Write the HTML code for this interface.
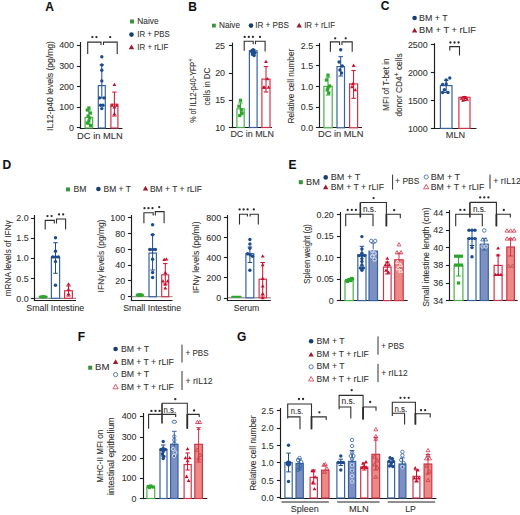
<!DOCTYPE html>
<html><head><meta charset="utf-8"><style>
html,body{margin:0;padding:0;background:#fff;}
svg{display:block;}
svg text{font-family:"Liberation Sans", sans-serif;stroke:currentColor;stroke-width:0.08px;}
</style></head><body>
<svg width="520" height="515" viewBox="0 0 520 515">
<rect width="520" height="515" fill="#fff"/>
<text x="45.2" y="10.6" font-size="12" fill="#111" color="#111" font-weight="bold">A</text>
<text x="188.2" y="10.8" font-size="12" fill="#111" color="#111" font-weight="bold">B</text>
<text x="380.8" y="10.4" font-size="12" fill="#111" color="#111" font-weight="bold">C</text>
<text x="2.6" y="169.2" font-size="12" fill="#111" color="#111" font-weight="bold">D</text>
<text x="288.6" y="169.3" font-size="12" fill="#111" color="#111" font-weight="bold">E</text>
<text x="77.8" y="341" font-size="12" fill="#111" color="#111" font-weight="bold">F</text>
<text x="237" y="341.3" font-size="12" fill="#111" color="#111" font-weight="bold">G</text>
<rect x="130.0" y="19.5" width="4" height="4" fill="#3a923a"/>
<text x="137.3" y="24.0" font-size="8.9" fill="#303030" color="#303030" textLength="21.3" lengthAdjust="spacingAndGlyphs">Naive</text>
<circle cx="131.5" cy="34.6" r="2.3" fill="#173f6e"/>
<text x="137.3" y="37.1" font-size="8.9" fill="#303030" color="#303030" textLength="32.3" lengthAdjust="spacingAndGlyphs">IR + PBS</text>
<polygon points="131.5,44.581199999999995 134.2,49.279199999999996 128.8,49.279199999999996" fill="#9c1a2e"/>
<text x="137.3" y="49.9" font-size="8.9" fill="#303030" color="#303030" textLength="31.0" lengthAdjust="spacingAndGlyphs">IR + rLIF</text>
<line x1="80.5" y1="42" x2="80.5" y2="129.1" stroke="#1c1c1c" stroke-width="1.15"/>
<line x1="79.9" y1="128.5" x2="122.5" y2="128.5" stroke="#1c1c1c" stroke-width="1.15"/>
<line x1="76.9" y1="45.5" x2="80.5" y2="45.5" stroke="#1c1c1c" stroke-width="1.1"/>
<text x="74" y="48.4" font-size="8.9" fill="#303030" color="#303030" text-anchor="end">400</text>
<line x1="76.9" y1="66.5" x2="80.5" y2="66.5" stroke="#1c1c1c" stroke-width="1.1"/>
<text x="74" y="69.1" font-size="8.9" fill="#303030" color="#303030" text-anchor="end">300</text>
<line x1="76.9" y1="86.5" x2="80.5" y2="86.5" stroke="#1c1c1c" stroke-width="1.1"/>
<text x="74" y="89.6" font-size="8.9" fill="#303030" color="#303030" text-anchor="end">200</text>
<line x1="76.9" y1="107.5" x2="80.5" y2="107.5" stroke="#1c1c1c" stroke-width="1.1"/>
<text x="74" y="110.19999999999999" font-size="8.9" fill="#303030" color="#303030" text-anchor="end">100</text>
<line x1="76.9" y1="127.5" x2="80.5" y2="127.5" stroke="#1c1c1c" stroke-width="1.1"/>
<text x="74" y="130.6" font-size="8.9" fill="#303030" color="#303030" text-anchor="end">0</text>
<text transform="translate(52.5,86) rotate(-90)" x="0" y="0" font-size="8.9" fill="#303030" color="#303030" text-anchor="middle" textLength="89.8" lengthAdjust="spacingAndGlyphs">IL12-p40 levels (pg/mg)</text>
<text x="77.1" y="139" font-size="8.9" fill="#303030" color="#303030" textLength="45.6" lengthAdjust="spacingAndGlyphs">DC in MLN</text>
<rect x="85.1" y="117.5" width="7.599999999999997" height="10.5" fill="#fff" stroke="#4cb04a" stroke-width="1.2"/>
<rect x="98.3" y="85.6" width="7.000000000000003" height="42.400000000000006" fill="#fff" stroke="#3563a3" stroke-width="1.2"/>
<rect x="110.89999999999999" y="104.2" width="7.000000000000003" height="23.799999999999997" fill="#fff" stroke="#d0344a" stroke-width="1.2"/>
<line x1="101.8" y1="64.9" x2="101.8" y2="97.9" stroke="#1d4b8c" stroke-width="1"/>
<line x1="99.55" y1="64.9" x2="104.05" y2="64.9" stroke="#1d4b8c" stroke-width="1"/>
<line x1="99.55" y1="97.9" x2="104.05" y2="97.9" stroke="#1d4b8c" stroke-width="1"/>
<line x1="114.4" y1="92.1" x2="114.4" y2="116" stroke="#c8102e" stroke-width="1"/>
<line x1="112.15" y1="92.1" x2="116.65" y2="92.1" stroke="#c8102e" stroke-width="1"/>
<line x1="112.15" y1="116" x2="116.65" y2="116" stroke="#c8102e" stroke-width="1"/>
<line x1="88.9" y1="110" x2="88.9" y2="124" stroke="#2ba52b" stroke-width="1"/>
<line x1="86.65" y1="110" x2="91.15" y2="110" stroke="#2ba52b" stroke-width="1"/>
<line x1="86.65" y1="124" x2="91.15" y2="124" stroke="#2ba52b" stroke-width="1"/>
<rect x="87.30000000000001" y="106.4" width="3.2" height="3.2" fill="#2ba52b"/>
<rect x="85.70000000000002" y="108.4" width="3.2" height="3.2" fill="#2ba52b"/>
<rect x="88.9" y="111.4" width="3.2" height="3.2" fill="#2ba52b"/>
<rect x="86.50000000000001" y="114.4" width="3.2" height="3.2" fill="#2ba52b"/>
<rect x="88.10000000000001" y="116.4" width="3.2" height="3.2" fill="#2ba52b"/>
<rect x="87.30000000000001" y="119.4" width="3.2" height="3.2" fill="#2ba52b"/>
<rect x="85.70000000000002" y="121.4" width="3.2" height="3.2" fill="#2ba52b"/>
<rect x="88.9" y="123.9" width="3.2" height="3.2" fill="#2ba52b"/>
<circle cx="101.8" cy="56.7" r="1.7" fill="#1d4b8c"/>
<circle cx="101.8" cy="64.9" r="1.7" fill="#1d4b8c"/>
<circle cx="101.8" cy="70.3" r="1.7" fill="#1d4b8c"/>
<circle cx="101.8" cy="80.9" r="1.7" fill="#1d4b8c"/>
<circle cx="99.6" cy="97.9" r="1.7" fill="#1d4b8c"/>
<circle cx="104" cy="97.9" r="1.7" fill="#1d4b8c"/>
<circle cx="100.6" cy="105.2" r="1.7" fill="#1d4b8c"/>
<circle cx="103" cy="105.2" r="1.7" fill="#1d4b8c"/>
<circle cx="101.8" cy="108.6" r="1.7" fill="#1d4b8c"/>
<polygon points="114.4,82.8164 116.30000000000001,86.1224 112.5,86.1224" fill="#c8102e"/>
<polygon points="112.2,103.41640000000001 114.10000000000001,106.72240000000001 110.3,106.72240000000001" fill="#c8102e"/>
<polygon points="116.6,103.41640000000001 118.5,106.72240000000001 114.69999999999999,106.72240000000001" fill="#c8102e"/>
<polygon points="114.4,105.3164 116.30000000000001,108.6224 112.5,108.6224" fill="#c8102e"/>
<polygon points="114.4,112.0164 116.30000000000001,115.3224 112.5,115.3224" fill="#c8102e"/>
<polyline points="87.7,53.9 87.7,42.1 101,42.1 101,45.1" fill="none" stroke="#2e2e2e" stroke-width="1.1"/>
<polyline points="103.5,45.1 103.5,42.1 117.2,42.1 117.2,53.9" fill="none" stroke="#2e2e2e" stroke-width="1.1"/>
<circle cx="92.35" cy="37.1" r="1.15" fill="#2a2a2a"/>
<circle cx="96.45" cy="37.1" r="1.15" fill="#2a2a2a"/>
<circle cx="110.20" cy="37.1" r="1.15" fill="#2a2a2a"/>
<rect x="212.0" y="23.700000000000003" width="3.8" height="3.8" fill="#3a923a"/>
<text x="219.0" y="28.1" font-size="8.9" fill="#303030" color="#303030" textLength="21.0" lengthAdjust="spacingAndGlyphs">Naive</text>
<circle cx="251" cy="25.6" r="2.3" fill="#173f6e"/>
<text x="255.2" y="28.1" font-size="8.9" fill="#303030" color="#303030" textLength="33.7" lengthAdjust="spacingAndGlyphs">IR + PBS</text>
<polygon points="299.2,22.781200000000002 301.9,27.479200000000002 296.5,27.479200000000002" fill="#9c1a2e"/>
<text x="304.2" y="28.1" font-size="8.9" fill="#303030" color="#303030" textLength="30.8" lengthAdjust="spacingAndGlyphs">IR + rLIF</text>
<line x1="232.5" y1="42.7" x2="232.5" y2="128.1" stroke="#1c1c1c" stroke-width="1.15"/>
<line x1="231.9" y1="127.5" x2="272" y2="127.5" stroke="#1c1c1c" stroke-width="1.15"/>
<line x1="228.9" y1="45.5" x2="232.5" y2="45.5" stroke="#1c1c1c" stroke-width="1.1"/>
<text x="225" y="48.7" font-size="8.9" fill="#303030" color="#303030" text-anchor="end">25</text>
<line x1="228.9" y1="73.5" x2="232.5" y2="73.5" stroke="#1c1c1c" stroke-width="1.1"/>
<text x="225" y="76.1" font-size="8.9" fill="#303030" color="#303030" text-anchor="end">20</text>
<line x1="228.9" y1="100.5" x2="232.5" y2="100.5" stroke="#1c1c1c" stroke-width="1.1"/>
<text x="225" y="103.39999999999999" font-size="8.9" fill="#303030" color="#303030" text-anchor="end">15</text>
<line x1="228.9" y1="127.5" x2="232.5" y2="127.5" stroke="#1c1c1c" stroke-width="1.1"/>
<text x="225" y="130.6" font-size="8.9" fill="#303030" color="#303030" text-anchor="end">10</text>
<text transform="translate(195.7,90.7) rotate(-90)" font-size="8.9" fill="#303030" color="#303030" text-anchor="middle" textLength="64.3" lengthAdjust="spacingAndGlyphs">% of IL12-p40-YFP<tspan font-size="7" dy="-3.2">+</tspan></text>
<text transform="translate(209.5,86.7) rotate(-90)" x="0" y="0" font-size="8.9" fill="#303030" color="#303030" text-anchor="middle" textLength="37.7" lengthAdjust="spacingAndGlyphs">cells in DC</text>
<text x="230.4" y="137" font-size="8.9" fill="#303030" color="#303030" textLength="43.6" lengthAdjust="spacingAndGlyphs">DC in MLN</text>
<rect x="236.9" y="108.8" width="7.3" height="18.700000000000003" fill="#fff" stroke="#4cb04a" stroke-width="1.2"/>
<rect x="249.4" y="50.8" width="7.699999999999977" height="76.7" fill="#fff" stroke="#3563a3" stroke-width="1.2"/>
<rect x="261.90000000000003" y="79.1" width="8.100000000000012" height="48.400000000000006" fill="#fff" stroke="#d0344a" stroke-width="1.2"/>
<line x1="240.5" y1="102.9" x2="240.5" y2="115" stroke="#2ba52b" stroke-width="1"/>
<line x1="238.25" y1="102.9" x2="242.75" y2="102.9" stroke="#2ba52b" stroke-width="1"/>
<line x1="238.25" y1="115" x2="242.75" y2="115" stroke="#2ba52b" stroke-width="1"/>
<line x1="253.2" y1="49.5" x2="253.2" y2="55" stroke="#1d4b8c" stroke-width="1"/>
<line x1="250.95" y1="49.5" x2="255.45" y2="49.5" stroke="#1d4b8c" stroke-width="1"/>
<line x1="250.95" y1="55" x2="255.45" y2="55" stroke="#1d4b8c" stroke-width="1"/>
<line x1="266" y1="66.6" x2="266" y2="92" stroke="#c8102e" stroke-width="1"/>
<line x1="263.75" y1="66.6" x2="268.25" y2="66.6" stroke="#c8102e" stroke-width="1"/>
<line x1="263.75" y1="92" x2="268.25" y2="92" stroke="#c8102e" stroke-width="1"/>
<rect x="238.9" y="98.7" width="3.2" height="3.2" fill="#2ba52b"/>
<rect x="237.3" y="104.60000000000001" width="3.2" height="3.2" fill="#2ba52b"/>
<rect x="240.5" y="111.60000000000001" width="3.2" height="3.2" fill="#2ba52b"/>
<rect x="238.1" y="113.9" width="3.2" height="3.2" fill="#2ba52b"/>
<rect x="239.70000000000002" y="108.4" width="3.2" height="3.2" fill="#2ba52b"/>
<circle cx="253.2" cy="49.8" r="1.7" fill="#1d4b8c"/>
<circle cx="251.39999999999998" cy="51.2" r="1.7" fill="#1d4b8c"/>
<circle cx="255.0" cy="52.6" r="1.7" fill="#1d4b8c"/>
<circle cx="252.29999999999998" cy="54" r="1.7" fill="#1d4b8c"/>
<circle cx="254.1" cy="55.5" r="1.7" fill="#1d4b8c"/>
<circle cx="253.2" cy="51.5" r="1.7" fill="#1d4b8c"/>
<polygon points="266,59.7164 267.9,63.022400000000005 264.1,63.022400000000005" fill="#c8102e"/>
<polygon points="263.5,85.41640000000001 265.4,88.72240000000001 261.6,88.72240000000001" fill="#c8102e"/>
<polygon points="268.5,85.41640000000001 270.4,88.72240000000001 266.6,88.72240000000001" fill="#c8102e"/>
<polygon points="264.75,85.41640000000001 266.65,88.72240000000001 262.85,88.72240000000001" fill="#c8102e"/>
<polygon points="267.25,77.0164 269.15,80.3224 265.35,80.3224" fill="#c8102e"/>
<polyline points="244.2,50.8 244.2,41.3 253.2,41.3 253.2,44.3" fill="none" stroke="#2e2e2e" stroke-width="1.1"/>
<polyline points="255.5,44.3 255.5,41.3 265.1,41.3 265.1,51.4" fill="none" stroke="#2e2e2e" stroke-width="1.1"/>
<circle cx="244.70" cy="36.9" r="1.15" fill="#2a2a2a"/>
<circle cx="248.80" cy="36.9" r="1.15" fill="#2a2a2a"/>
<circle cx="252.90" cy="36.9" r="1.15" fill="#2a2a2a"/>
<circle cx="260.00" cy="36.9" r="1.15" fill="#2a2a2a"/>
<line x1="319.5" y1="43" x2="319.5" y2="128.1" stroke="#1c1c1c" stroke-width="1.15"/>
<line x1="318.9" y1="127.5" x2="362" y2="127.5" stroke="#1c1c1c" stroke-width="1.15"/>
<line x1="315.9" y1="45.5" x2="319.5" y2="45.5" stroke="#1c1c1c" stroke-width="1.1"/>
<text x="313.2" y="48.5" font-size="8.9" fill="#303030" color="#303030" text-anchor="end">2.5</text>
<line x1="315.9" y1="65.5" x2="319.5" y2="65.5" stroke="#1c1c1c" stroke-width="1.1"/>
<text x="313.2" y="69.0" font-size="8.9" fill="#303030" color="#303030" text-anchor="end">1.5</text>
<line x1="315.9" y1="86.5" x2="319.5" y2="86.5" stroke="#1c1c1c" stroke-width="1.1"/>
<text x="313.2" y="89.69999999999999" font-size="8.9" fill="#303030" color="#303030" text-anchor="end">1.0</text>
<line x1="315.9" y1="107.5" x2="319.5" y2="107.5" stroke="#1c1c1c" stroke-width="1.1"/>
<text x="313.2" y="110.1" font-size="8.9" fill="#303030" color="#303030" text-anchor="end">0.5</text>
<line x1="315.9" y1="127.5" x2="319.5" y2="127.5" stroke="#1c1c1c" stroke-width="1.1"/>
<text x="313.2" y="130.7" font-size="8.9" fill="#303030" color="#303030" text-anchor="end">0.0</text>
<text transform="translate(294.3,86.1) rotate(-90)" x="0" y="0" font-size="8.9" fill="#303030" color="#303030" text-anchor="middle" textLength="74.8" lengthAdjust="spacingAndGlyphs">Relative cell number</text>
<text x="318" y="137" font-size="8.9" fill="#303030" color="#303030" textLength="45.4" lengthAdjust="spacingAndGlyphs">DC in MLN</text>
<rect x="323.90000000000003" y="86.4" width="8.3" height="41.39999999999999" fill="#fff" stroke="#4cb04a" stroke-width="1.2"/>
<rect x="337.0" y="66.6" width="7.500000000000045" height="61.2" fill="#fff" stroke="#3563a3" stroke-width="1.2"/>
<rect x="349.6" y="83.9" width="7.9999999999999885" height="43.89999999999999" fill="#fff" stroke="#d0344a" stroke-width="1.2"/>
<line x1="328" y1="77.1" x2="328" y2="95" stroke="#2ba52b" stroke-width="1"/>
<line x1="325.75" y1="77.1" x2="330.25" y2="77.1" stroke="#2ba52b" stroke-width="1"/>
<line x1="325.75" y1="95" x2="330.25" y2="95" stroke="#2ba52b" stroke-width="1"/>
<line x1="340.7" y1="56.7" x2="340.7" y2="76" stroke="#1d4b8c" stroke-width="1"/>
<line x1="338.45" y1="56.7" x2="342.95" y2="56.7" stroke="#1d4b8c" stroke-width="1"/>
<line x1="338.45" y1="76" x2="342.95" y2="76" stroke="#1d4b8c" stroke-width="1"/>
<line x1="353.6" y1="70.6" x2="353.6" y2="98.3" stroke="#c8102e" stroke-width="1"/>
<line x1="351.35" y1="70.6" x2="355.85" y2="70.6" stroke="#c8102e" stroke-width="1"/>
<line x1="351.35" y1="98.3" x2="355.85" y2="98.3" stroke="#c8102e" stroke-width="1"/>
<rect x="326.4" y="73.5" width="3.2" height="3.2" fill="#2ba52b"/>
<rect x="324.79999999999995" y="78.4" width="3.2" height="3.2" fill="#2ba52b"/>
<rect x="328.0" y="84.4" width="3.2" height="3.2" fill="#2ba52b"/>
<rect x="325.59999999999997" y="88.4" width="3.2" height="3.2" fill="#2ba52b"/>
<rect x="327.2" y="91.4" width="3.2" height="3.2" fill="#2ba52b"/>
<rect x="326.4" y="86.4" width="3.2" height="3.2" fill="#2ba52b"/>
<circle cx="340.7" cy="49.8" r="1.7" fill="#1d4b8c"/>
<circle cx="339.09999999999997" cy="62" r="1.7" fill="#1d4b8c"/>
<circle cx="342.3" cy="66" r="1.7" fill="#1d4b8c"/>
<circle cx="339.9" cy="70" r="1.7" fill="#1d4b8c"/>
<circle cx="341.5" cy="73" r="1.7" fill="#1d4b8c"/>
<polygon points="353.6,63.61639999999999 355.5,66.9224 351.70000000000005,66.9224" fill="#c8102e"/>
<polygon points="352.0,85.0164 353.9,88.3224 350.1,88.3224" fill="#c8102e"/>
<polygon points="355.20000000000005,88.0164 357.1,91.3224 353.30000000000007,91.3224" fill="#c8102e"/>
<polygon points="352.8,82.0164 354.7,85.3224 350.90000000000003,85.3224" fill="#c8102e"/>
<polyline points="330.4,51.8 330.4,41.9 339.6,41.9 339.6,45" fill="none" stroke="#2e2e2e" stroke-width="1.1"/>
<polyline points="342,45 342,41.9 352.2,41.9 352.2,51.8" fill="none" stroke="#2e2e2e" stroke-width="1.1"/>
<circle cx="335.20" cy="38.3" r="1.15" fill="#2a2a2a"/>
<circle cx="345.70" cy="38.3" r="1.15" fill="#2a2a2a"/>
<circle cx="414.6" cy="18" r="2.3" fill="#173f6e"/>
<text x="419.1" y="20.5" font-size="8.9" fill="#303030" color="#303030" textLength="28.5" lengthAdjust="spacingAndGlyphs">BM + T</text>
<polygon points="414.6,27.781200000000002 417.3,32.4792 411.90000000000003,32.4792" fill="#9c1a2e"/>
<text x="419.1" y="33.1" font-size="8.9" fill="#303030" color="#303030" textLength="56.9" lengthAdjust="spacingAndGlyphs">BM + T + rLIF</text>
<line x1="434.5" y1="43.2" x2="434.5" y2="129.1" stroke="#1c1c1c" stroke-width="1.15"/>
<line x1="433.9" y1="128.5" x2="476.5" y2="128.5" stroke="#1c1c1c" stroke-width="1.15"/>
<line x1="430.9" y1="44.5" x2="434.5" y2="44.5" stroke="#1c1c1c" stroke-width="1.1"/>
<text x="427.7" y="47.7" font-size="8.9" fill="#303030" color="#303030" text-anchor="end">2500</text>
<line x1="430.9" y1="72.5" x2="434.5" y2="72.5" stroke="#1c1c1c" stroke-width="1.1"/>
<text x="427.7" y="75.89999999999999" font-size="8.9" fill="#303030" color="#303030" text-anchor="end">2000</text>
<line x1="430.9" y1="100.5" x2="434.5" y2="100.5" stroke="#1c1c1c" stroke-width="1.1"/>
<text x="427.7" y="103.69999999999999" font-size="8.9" fill="#303030" color="#303030" text-anchor="end">1500</text>
<line x1="430.9" y1="128.5" x2="434.5" y2="128.5" stroke="#1c1c1c" stroke-width="1.1"/>
<text x="427.7" y="131.5" font-size="8.9" fill="#303030" color="#303030" text-anchor="end">1000</text>
<text transform="translate(389,84.7) rotate(-90)" x="0" y="0" font-size="8.9" fill="#303030" color="#303030" text-anchor="middle" textLength="52.4" lengthAdjust="spacingAndGlyphs">MFI of T-bet in</text>
<text transform="translate(402,85) rotate(-90)" font-size="8.9" fill="#303030" color="#303030" text-anchor="middle" textLength="63.2" lengthAdjust="spacingAndGlyphs">donor CD4<tspan font-size="7" dy="-3.2">+</tspan><tspan dy="3"> cells</tspan></text>
<text x="455.5" y="138.3" font-size="8.9" fill="#303030" color="#303030" text-anchor="middle" textLength="19.3" lengthAdjust="spacingAndGlyphs">MLN</text>
<rect x="440.40000000000003" y="85.6" width="11.600000000000012" height="42.80000000000001" fill="#fff" stroke="#3563a3" stroke-width="1.2"/>
<rect x="458.90000000000003" y="97.3" width="11.100000000000012" height="31.10000000000001" fill="#fff" stroke="#d0344a" stroke-width="1.2"/>
<line x1="446.2" y1="80.3" x2="446.2" y2="92.5" stroke="#1d4b8c" stroke-width="1"/>
<line x1="443.95" y1="80.3" x2="448.45" y2="80.3" stroke="#1d4b8c" stroke-width="1"/>
<line x1="443.95" y1="92.5" x2="448.45" y2="92.5" stroke="#1d4b8c" stroke-width="1"/>
<line x1="464.4" y1="96.5" x2="464.4" y2="100.5" stroke="#c8102e" stroke-width="1"/>
<line x1="462.15" y1="96.5" x2="466.65" y2="96.5" stroke="#c8102e" stroke-width="1"/>
<line x1="462.15" y1="100.5" x2="466.65" y2="100.5" stroke="#c8102e" stroke-width="1"/>
<circle cx="446.2" cy="79.9" r="1.7" fill="#1d4b8c"/>
<circle cx="442.59999999999997" cy="84.4" r="1.7" fill="#1d4b8c"/>
<circle cx="449.8" cy="78" r="1.7" fill="#1d4b8c"/>
<circle cx="444.4" cy="89.7" r="1.7" fill="#1d4b8c"/>
<circle cx="448.0" cy="92.5" r="1.7" fill="#1d4b8c"/>
<circle cx="446.2" cy="84" r="1.7" fill="#1d4b8c"/>
<circle cx="442.59999999999997" cy="92.5" r="1.7" fill="#1d4b8c"/>
<polygon points="464.4,95.5164 466.29999999999995,98.8224 462.5,98.8224" fill="#c8102e"/>
<polygon points="461.59999999999997,96.5164 463.49999999999994,99.8224 459.7,99.8224" fill="#c8102e"/>
<polygon points="467.2,97.5164 469.09999999999997,100.8224 465.3,100.8224" fill="#c8102e"/>
<polygon points="463.0,98.5164 464.9,101.8224 461.1,101.8224" fill="#c8102e"/>
<polygon points="465.79999999999995,96.0164 467.69999999999993,99.3224 463.9,99.3224" fill="#c8102e"/>
<polyline points="449.8,50.5 449.8,46.6 459.5,46.6 459.5,55.4" fill="none" stroke="#2e2e2e" stroke-width="1.1"/>
<circle cx="450.40" cy="42.5" r="1.15" fill="#2a2a2a"/>
<circle cx="454.50" cy="42.5" r="1.15" fill="#2a2a2a"/>
<circle cx="458.60" cy="42.5" r="1.15" fill="#2a2a2a"/>
<rect x="66.05" y="187.45000000000002" width="3.9" height="3.9" fill="#3a923a"/>
<text x="73.6" y="191.8" font-size="8.9" fill="#303030" color="#303030" textLength="12.9" lengthAdjust="spacingAndGlyphs">BM</text>
<circle cx="98.4" cy="189" r="2.3" fill="#173f6e"/>
<text x="103.5" y="191.6" font-size="8.9" fill="#303030" color="#303030" textLength="27.3" lengthAdjust="spacingAndGlyphs">BM + T</text>
<polygon points="145.5,185.78119999999998 148.2,190.4792 142.8,190.4792" fill="#9c1a2e"/>
<text x="149.9" y="191.6" font-size="8.9" fill="#303030" color="#303030" textLength="52.1" lengthAdjust="spacingAndGlyphs">BM + T + rLIF</text>
<line x1="34.5" y1="298.3" x2="76" y2="298.3" stroke="#666" stroke-width="0.9"/>
<line x1="34.5" y1="215" x2="34.5" y2="301.1" stroke="#1c1c1c" stroke-width="1.15"/>
<line x1="33.9" y1="300.5" x2="76" y2="300.5" stroke="#1c1c1c" stroke-width="1.15"/>
<line x1="30.9" y1="218.5" x2="34.5" y2="218.5" stroke="#1c1c1c" stroke-width="1.1"/>
<text x="28.7" y="221.1" font-size="8.9" fill="#303030" color="#303030" text-anchor="end">2.0</text>
<line x1="30.9" y1="238.5" x2="34.5" y2="238.5" stroke="#1c1c1c" stroke-width="1.1"/>
<text x="28.7" y="241.29999999999998" font-size="8.9" fill="#303030" color="#303030" text-anchor="end">1.5</text>
<line x1="30.9" y1="258.5" x2="34.5" y2="258.5" stroke="#1c1c1c" stroke-width="1.1"/>
<text x="28.7" y="261.1" font-size="8.9" fill="#303030" color="#303030" text-anchor="end">1.0</text>
<line x1="30.9" y1="278.5" x2="34.5" y2="278.5" stroke="#1c1c1c" stroke-width="1.1"/>
<text x="28.7" y="281.5" font-size="8.9" fill="#303030" color="#303030" text-anchor="end">0.5</text>
<line x1="30.9" y1="298.5" x2="34.5" y2="298.5" stroke="#1c1c1c" stroke-width="1.1"/>
<text x="28.7" y="301.70000000000005" font-size="8.9" fill="#303030" color="#303030" text-anchor="end">0.0</text>
<text transform="translate(10.6,258.4) rotate(-90)" x="0" y="0" font-size="8.9" fill="#303030" color="#303030" text-anchor="middle" textLength="75.8" lengthAdjust="spacingAndGlyphs">mRNA levels of IFNγ</text>
<text x="26.3" y="311.2" font-size="8.9" fill="#303030" color="#303030" textLength="58" lengthAdjust="spacingAndGlyphs">Small Intestine</text>
<ellipse cx="43.2" cy="296.8" rx="4.6" ry="1.7" fill="#2ba52b"/>
<rect x="51.4" y="257.5" width="8.200000000000006" height="40.80000000000001" fill="#fff" stroke="#3563a3" stroke-width="1.2"/>
<rect x="64.6" y="290.8" width="7.8" height="7.5" fill="#fff" stroke="#d0344a" stroke-width="1.2"/>
<line x1="55.5" y1="242.7" x2="55.5" y2="273.3" stroke="#1d4b8c" stroke-width="1"/>
<line x1="53.25" y1="242.7" x2="57.75" y2="242.7" stroke="#1d4b8c" stroke-width="1"/>
<line x1="53.25" y1="273.3" x2="57.75" y2="273.3" stroke="#1d4b8c" stroke-width="1"/>
<line x1="68.5" y1="286" x2="68.5" y2="296" stroke="#c8102e" stroke-width="1"/>
<line x1="66.25" y1="286" x2="70.75" y2="286" stroke="#c8102e" stroke-width="1"/>
<line x1="66.25" y1="296" x2="70.75" y2="296" stroke="#c8102e" stroke-width="1"/>
<circle cx="55.5" cy="237.7" r="1.7" fill="#1d4b8c"/>
<circle cx="55.5" cy="251.2" r="1.7" fill="#1d4b8c"/>
<circle cx="52.6" cy="256.9" r="1.7" fill="#1d4b8c"/>
<circle cx="55.5" cy="256.9" r="1.7" fill="#1d4b8c"/>
<circle cx="58.4" cy="256.9" r="1.7" fill="#1d4b8c"/>
<circle cx="55.5" cy="261.6" r="1.7" fill="#1d4b8c"/>
<circle cx="55.5" cy="285.2" r="1.7" fill="#1d4b8c"/>
<polygon points="68.5,282.21639999999996 70.4,285.5224 66.6,285.5224" fill="#c8102e"/>
<polygon points="68.5,287.5164 70.4,290.8224 66.6,290.8224" fill="#c8102e"/>
<polygon points="68.5,292.0164 70.4,295.3224 66.6,295.3224" fill="#c8102e"/>
<polyline points="45.2,229.5 45.2,220.4 54.3,220.4 54.3,223.6" fill="none" stroke="#2e2e2e" stroke-width="1.1"/>
<polyline points="56.5,223.6 56.5,219 65.6,219 65.6,229.5" fill="none" stroke="#2e2e2e" stroke-width="1.1"/>
<circle cx="47.50" cy="216.1" r="1.15" fill="#2a2a2a"/>
<circle cx="51.60" cy="216.1" r="1.15" fill="#2a2a2a"/>
<circle cx="59.05" cy="214.4" r="1.15" fill="#2a2a2a"/>
<circle cx="63.15" cy="214.4" r="1.15" fill="#2a2a2a"/>
<line x1="131.5" y1="215" x2="131.5" y2="301.1" stroke="#1c1c1c" stroke-width="1.15"/>
<line x1="130.9" y1="300.5" x2="172.5" y2="300.5" stroke="#1c1c1c" stroke-width="1.15"/>
<line x1="127.9" y1="217.5" x2="131.5" y2="217.5" stroke="#1c1c1c" stroke-width="1.1"/>
<text x="125.1" y="220.7" font-size="8.9" fill="#303030" color="#303030" text-anchor="end">100</text>
<line x1="127.9" y1="233.5" x2="131.5" y2="233.5" stroke="#1c1c1c" stroke-width="1.1"/>
<text x="125.1" y="236.79999999999998" font-size="8.9" fill="#303030" color="#303030" text-anchor="end">80</text>
<line x1="127.9" y1="249.5" x2="131.5" y2="249.5" stroke="#1c1c1c" stroke-width="1.1"/>
<text x="125.1" y="252.79999999999998" font-size="8.9" fill="#303030" color="#303030" text-anchor="end">60</text>
<line x1="127.9" y1="265.5" x2="131.5" y2="265.5" stroke="#1c1c1c" stroke-width="1.1"/>
<text x="125.1" y="268.3" font-size="8.9" fill="#303030" color="#303030" text-anchor="end">40</text>
<line x1="127.9" y1="280.5" x2="131.5" y2="280.5" stroke="#1c1c1c" stroke-width="1.1"/>
<text x="125.1" y="283.8" font-size="8.9" fill="#303030" color="#303030" text-anchor="end">20</text>
<line x1="127.9" y1="296.5" x2="131.5" y2="296.5" stroke="#1c1c1c" stroke-width="1.1"/>
<text x="125.1" y="299.70000000000005" font-size="8.9" fill="#303030" color="#303030" text-anchor="end">0</text>
<line x1="131" y1="296.7" x2="172.5" y2="296.7" stroke="#666" stroke-width="0.8"/>
<text transform="translate(104,256) rotate(-90)" x="0" y="0" font-size="8.9" fill="#303030" color="#303030" text-anchor="middle" textLength="72.8" lengthAdjust="spacingAndGlyphs">IFNγ levels (pg/mg)</text>
<text x="123.2" y="311.2" font-size="8.9" fill="#303030" color="#303030" textLength="58" lengthAdjust="spacingAndGlyphs">Small Intestine</text>
<ellipse cx="139.8" cy="295" rx="4.2" ry="2" fill="#2ba52b"/>
<rect x="149.0" y="253.1" width="7.399999999999994" height="43.599999999999994" fill="#fff" stroke="#3563a3" stroke-width="1.2"/>
<rect x="161.7" y="274.8" width="7.000000000000017" height="21.899999999999977" fill="#fff" stroke="#d0344a" stroke-width="1.2"/>
<line x1="152.6" y1="234.7" x2="152.6" y2="270" stroke="#1d4b8c" stroke-width="1"/>
<line x1="150.35" y1="234.7" x2="154.85" y2="234.7" stroke="#1d4b8c" stroke-width="1"/>
<line x1="150.35" y1="270" x2="154.85" y2="270" stroke="#1d4b8c" stroke-width="1"/>
<line x1="165.3" y1="263.6" x2="165.3" y2="284" stroke="#c8102e" stroke-width="1"/>
<line x1="163.05" y1="263.6" x2="167.55" y2="263.6" stroke="#c8102e" stroke-width="1"/>
<line x1="163.05" y1="284" x2="167.55" y2="284" stroke="#c8102e" stroke-width="1"/>
<circle cx="152.6" cy="224.8" r="1.7" fill="#1d4b8c"/>
<circle cx="152.6" cy="234.7" r="1.7" fill="#1d4b8c"/>
<circle cx="149.8" cy="249.5" r="1.7" fill="#1d4b8c"/>
<circle cx="152.6" cy="249.5" r="1.7" fill="#1d4b8c"/>
<circle cx="155.4" cy="249.5" r="1.7" fill="#1d4b8c"/>
<circle cx="152.6" cy="259.3" r="1.7" fill="#1d4b8c"/>
<circle cx="152.6" cy="272.5" r="1.7" fill="#1d4b8c"/>
<circle cx="152.6" cy="277.5" r="1.7" fill="#1d4b8c"/>
<polygon points="164.2,257.71639999999996 166.1,261.0224 162.29999999999998,261.0224" fill="#c8102e"/>
<polygon points="166.4,257.21639999999996 168.3,260.5224 164.5,260.5224" fill="#c8102e"/>
<polygon points="165.3,270.8164 167.20000000000002,274.1224 163.4,274.1224" fill="#c8102e"/>
<polygon points="163,279.3164 164.9,282.6224 161.1,282.6224" fill="#c8102e"/>
<polygon points="167.6,279.3164 169.5,282.6224 165.7,282.6224" fill="#c8102e"/>
<polygon points="165.3,282.5164 167.20000000000002,285.8224 163.4,285.8224" fill="#c8102e"/>
<polygon points="165.3,286.21639999999996 167.20000000000002,289.5224 163.4,289.5224" fill="#c8102e"/>
<polyline points="143.9,223.2 143.9,212.7 153.2,212.7 153.2,215.6" fill="none" stroke="#2e2e2e" stroke-width="1.1"/>
<polyline points="155.3,215.6 155.3,211.6 164.1,211.6 164.1,223.2" fill="none" stroke="#2e2e2e" stroke-width="1.1"/>
<circle cx="144.50" cy="208.2" r="1.15" fill="#2a2a2a"/>
<circle cx="148.50" cy="208.2" r="1.15" fill="#2a2a2a"/>
<circle cx="152.50" cy="208.2" r="1.15" fill="#2a2a2a"/>
<circle cx="159.20" cy="207.1" r="1.15" fill="#2a2a2a"/>
<line x1="227.5" y1="297.8" x2="270.8" y2="297.8" stroke="#666" stroke-width="0.9"/>
<line x1="227.5" y1="215" x2="227.5" y2="301.1" stroke="#1c1c1c" stroke-width="1.15"/>
<line x1="226.9" y1="300.5" x2="270.8" y2="300.5" stroke="#1c1c1c" stroke-width="1.15"/>
<line x1="223.9" y1="217.5" x2="227.5" y2="217.5" stroke="#1c1c1c" stroke-width="1.1"/>
<text x="221.1" y="220.7" font-size="8.9" fill="#303030" color="#303030" text-anchor="end">800</text>
<line x1="223.9" y1="237.5" x2="227.5" y2="237.5" stroke="#1c1c1c" stroke-width="1.1"/>
<text x="221.1" y="240.7" font-size="8.9" fill="#303030" color="#303030" text-anchor="end">600</text>
<line x1="223.9" y1="257.5" x2="227.5" y2="257.5" stroke="#1c1c1c" stroke-width="1.1"/>
<text x="221.1" y="260.70000000000005" font-size="8.9" fill="#303030" color="#303030" text-anchor="end">400</text>
<line x1="223.9" y1="277.5" x2="227.5" y2="277.5" stroke="#1c1c1c" stroke-width="1.1"/>
<text x="221.1" y="280.90000000000003" font-size="8.9" fill="#303030" color="#303030" text-anchor="end">200</text>
<line x1="223.9" y1="298.5" x2="227.5" y2="298.5" stroke="#1c1c1c" stroke-width="1.1"/>
<text x="221.1" y="301.3" font-size="8.9" fill="#303030" color="#303030" text-anchor="end">0</text>
<text transform="translate(199,257.4) rotate(-90)" x="0" y="0" font-size="8.9" fill="#303030" color="#303030" text-anchor="middle" textLength="71.8" lengthAdjust="spacingAndGlyphs">IFNγ levels (pg/ml)</text>
<text x="246.5" y="311.2" font-size="8.9" fill="#303030" color="#303030" text-anchor="middle" textLength="25.6" lengthAdjust="spacingAndGlyphs">Serum</text>
<rect x="231.2" y="295.8" width="10.3" height="2" rx="0.8" fill="#2ba52b"/>
<rect x="245.9" y="253.7" width="7.899999999999994" height="44.10000000000002" fill="#fff" stroke="#3563a3" stroke-width="1.2"/>
<rect x="259.1" y="279.2" width="7.3" height="18.600000000000023" fill="#fff" stroke="#d0344a" stroke-width="1.2"/>
<line x1="249.9" y1="247" x2="249.9" y2="262.5" stroke="#1d4b8c" stroke-width="1"/>
<line x1="247.65" y1="247" x2="252.15" y2="247" stroke="#1d4b8c" stroke-width="1"/>
<line x1="247.65" y1="262.5" x2="252.15" y2="262.5" stroke="#1d4b8c" stroke-width="1"/>
<line x1="262.7" y1="262.5" x2="262.7" y2="296" stroke="#c8102e" stroke-width="1"/>
<line x1="260.45" y1="262.5" x2="264.95" y2="262.5" stroke="#c8102e" stroke-width="1"/>
<line x1="260.45" y1="296" x2="264.95" y2="296" stroke="#c8102e" stroke-width="1"/>
<circle cx="249.9" cy="239.5" r="1.7" fill="#1d4b8c"/>
<circle cx="249.9" cy="244" r="1.7" fill="#1d4b8c"/>
<circle cx="249.9" cy="248.2" r="1.7" fill="#1d4b8c"/>
<circle cx="247.6" cy="253.8" r="1.7" fill="#1d4b8c"/>
<circle cx="250.2" cy="254.8" r="1.7" fill="#1d4b8c"/>
<circle cx="252.5" cy="256.2" r="1.7" fill="#1d4b8c"/>
<circle cx="249.9" cy="270.3" r="1.7" fill="#1d4b8c"/>
<polygon points="262.7,254.31640000000002 264.59999999999997,257.6224 260.8,257.6224" fill="#c8102e"/>
<polygon points="262.69,263.0164 264.59,266.3224 260.79,266.3224" fill="#c8102e"/>
<polygon points="262.71,276.6164 264.60999999999996,279.92240000000004 260.81,279.92240000000004" fill="#c8102e"/>
<polygon points="262.695,284.1164 264.59499999999997,287.42240000000004 260.795,287.42240000000004" fill="#c8102e"/>
<polygon points="262.705,291.71639999999996 264.60499999999996,295.0224 260.805,295.0224" fill="#c8102e"/>
<polygon points="262.7,296.0164 264.59999999999997,299.3224 260.8,299.3224" fill="#c8102e"/>
<polyline points="239.5,224.6 239.5,214.2 247.4,214.2 247.4,216.6" fill="none" stroke="#2e2e2e" stroke-width="1.1"/>
<polyline points="250.1,216.6 250.1,214.2 258.3,214.2 258.3,224.6" fill="none" stroke="#2e2e2e" stroke-width="1.1"/>
<circle cx="239.60" cy="209.4" r="1.15" fill="#2a2a2a"/>
<circle cx="243.60" cy="209.4" r="1.15" fill="#2a2a2a"/>
<circle cx="247.60" cy="209.4" r="1.15" fill="#2a2a2a"/>
<circle cx="253.80" cy="209.4" r="1.15" fill="#2a2a2a"/>
<rect x="298.8" y="180.2" width="4" height="4" fill="#3a923a"/>
<text x="306.1" y="184.7" font-size="8.9" fill="#303030" color="#303030" textLength="13.7" lengthAdjust="spacingAndGlyphs">BM</text>
<circle cx="325.7" cy="177.4" r="2.3" fill="#173f6e"/>
<text x="330.8" y="179.9" font-size="8.9" fill="#303030" color="#303030" textLength="29.4" lengthAdjust="spacingAndGlyphs">BM + T</text>
<polygon points="325.7,184.4812 328.4,189.1792 323.0,189.1792" fill="#9c1a2e"/>
<text x="330.8" y="189.8" font-size="8.9" fill="#303030" color="#303030" textLength="53.2" lengthAdjust="spacingAndGlyphs">BM + T + rLIF</text>
<line x1="392.6" y1="174.6" x2="392.6" y2="189.6" stroke="#333" stroke-width="1"/>
<text x="395.1" y="183.7" font-size="8.9" fill="#303030" color="#303030" textLength="24.2" lengthAdjust="spacingAndGlyphs">+ PBS</text>
<circle cx="426.2" cy="177" r="2.1" fill="none" stroke="#3563a3" stroke-width="0.8"/>
<text x="430.8" y="179.6" font-size="8.9" fill="#303030" color="#303030" textLength="29.3" lengthAdjust="spacingAndGlyphs">BM + T</text>
<polygon points="426.2,184.2856 428.8,188.8096 423.59999999999997,188.8096" fill="none" stroke="#d0344a" stroke-width="0.8"/>
<text x="430.8" y="189.6" font-size="8.9" fill="#303030" color="#303030" textLength="53.5" lengthAdjust="spacingAndGlyphs">BM + T + rLIF</text>
<line x1="490" y1="174.5" x2="490" y2="188.8" stroke="#333" stroke-width="1"/>
<text x="493.3" y="183.7" font-size="8.9" fill="#303030" color="#303030" textLength="27.5" lengthAdjust="spacingAndGlyphs">+ rIL12</text>
<line x1="340.5" y1="212" x2="340.5" y2="301.1" stroke="#1c1c1c" stroke-width="1.15"/>
<line x1="339.9" y1="300.5" x2="407.7" y2="300.5" stroke="#1c1c1c" stroke-width="1.15"/>
<line x1="336.9" y1="214.5" x2="340.5" y2="214.5" stroke="#1c1c1c" stroke-width="1.1"/>
<text x="333.8" y="217.79999999999998" font-size="8.9" fill="#303030" color="#303030" text-anchor="end">0.20</text>
<line x1="336.9" y1="236.5" x2="340.5" y2="236.5" stroke="#1c1c1c" stroke-width="1.1"/>
<text x="333.8" y="239.4" font-size="8.9" fill="#303030" color="#303030" text-anchor="end">0.15</text>
<line x1="336.9" y1="257.5" x2="340.5" y2="257.5" stroke="#1c1c1c" stroke-width="1.1"/>
<text x="333.8" y="260.70000000000005" font-size="8.9" fill="#303030" color="#303030" text-anchor="end">0.10</text>
<line x1="336.9" y1="279.5" x2="340.5" y2="279.5" stroke="#1c1c1c" stroke-width="1.1"/>
<text x="333.8" y="282.3" font-size="8.9" fill="#303030" color="#303030" text-anchor="end">0.05</text>
<line x1="336.9" y1="300.5" x2="340.5" y2="300.5" stroke="#1c1c1c" stroke-width="1.1"/>
<text x="333.8" y="303.6" font-size="8.9" fill="#303030" color="#303030" text-anchor="end">0</text>
<text transform="translate(309.5,253.9) rotate(-90)" x="0" y="0" font-size="8.9" fill="#303030" color="#303030" text-anchor="middle" textLength="59.6" lengthAdjust="spacingAndGlyphs">Spleen weight (g)</text>
<rect x="345.0" y="280.9" width="8.200000000000035" height="19.700000000000045" fill="#fff" stroke="#4cb04a" stroke-width="1.2"/>
<rect x="357.8" y="254.7" width="8.200000000000035" height="45.900000000000034" fill="#fff" stroke="#3563a3" stroke-width="1.2"/>
<rect x="369.0" y="251.1" width="8.500000000000046" height="49.50000000000003" fill="#7e90c2" stroke="#3563a3" stroke-width="1.2"/>
<rect x="383.5" y="267.1" width="7.600000000000011" height="33.5" fill="#fff" stroke="#d0344a" stroke-width="1.2"/>
<rect x="394.70000000000005" y="259.8" width="8.49999999999999" height="40.80000000000001" fill="#eb8a84" stroke="#d0344a" stroke-width="1.2"/>
<rect x="344.9" y="278.9" width="3.2" height="3.2" fill="#2ba52b"/>
<rect x="347.4" y="277.9" width="3.2" height="3.2" fill="#2ba52b"/>
<rect x="349.9" y="276.9" width="3.2" height="3.2" fill="#2ba52b"/>
<rect x="345.9" y="279.9" width="3.2" height="3.2" fill="#2ba52b"/>
<rect x="348.9" y="278.9" width="3.2" height="3.2" fill="#2ba52b"/>
<rect x="350.9" y="277.4" width="3.2" height="3.2" fill="#2ba52b"/>
<line x1="361.9" y1="246.3" x2="361.9" y2="266" stroke="#1d4b8c" stroke-width="1"/>
<line x1="359.65" y1="246.3" x2="364.15" y2="246.3" stroke="#1d4b8c" stroke-width="1"/>
<line x1="359.65" y1="266" x2="364.15" y2="266" stroke="#1d4b8c" stroke-width="1"/>
<circle cx="361.9" cy="236.6" r="1.7" fill="#1d4b8c"/>
<circle cx="361.9" cy="249" r="1.7" fill="#1d4b8c"/>
<circle cx="361.9" cy="253.3" r="1.7" fill="#1d4b8c"/>
<circle cx="359.2" cy="255.6" r="1.7" fill="#1d4b8c"/>
<circle cx="361.9" cy="255.6" r="1.7" fill="#1d4b8c"/>
<circle cx="364.6" cy="255.6" r="1.7" fill="#1d4b8c"/>
<circle cx="361.9" cy="258.6" r="1.7" fill="#1d4b8c"/>
<circle cx="361.9" cy="261.5" r="1.7" fill="#1d4b8c"/>
<circle cx="361.9" cy="264.9" r="1.7" fill="#1d4b8c"/>
<circle cx="360.4" cy="268.1" r="1.7" fill="#1d4b8c"/>
<circle cx="363.4" cy="268.1" r="1.7" fill="#1d4b8c"/>
<circle cx="361.9" cy="270.3" r="1.7" fill="#1d4b8c"/>
<line x1="373.2" y1="243.1" x2="373.2" y2="259" stroke="#3563a3" stroke-width="1"/>
<line x1="370.95" y1="243.1" x2="375.45" y2="243.1" stroke="#3563a3" stroke-width="1"/>
<line x1="370.95" y1="259" x2="375.45" y2="259" stroke="#3563a3" stroke-width="1"/>
<circle cx="371.2" cy="240.9" r="1.7" fill="none" stroke="#3563a3" stroke-width="0.8"/>
<circle cx="375.2" cy="240.9" r="1.7" fill="none" stroke="#3563a3" stroke-width="0.8"/>
<circle cx="372" cy="250.5" r="1.7" fill="none" stroke="#ffffff" stroke-width="0.8"/>
<circle cx="374.5" cy="253.5" r="1.7" fill="none" stroke="#ffffff" stroke-width="0.8"/>
<circle cx="372.2" cy="256.5" r="1.7" fill="none" stroke="#ffffff" stroke-width="0.8"/>
<circle cx="374.6" cy="259.5" r="1.7" fill="none" stroke="#ffffff" stroke-width="0.8"/>
<line x1="387.3" y1="262" x2="387.3" y2="274" stroke="#c8102e" stroke-width="1"/>
<line x1="385.05" y1="262" x2="389.55" y2="262" stroke="#c8102e" stroke-width="1"/>
<line x1="385.05" y1="274" x2="389.55" y2="274" stroke="#c8102e" stroke-width="1"/>
<polygon points="387.3,256.41639999999995 389.2,259.7224 385.40000000000003,259.7224" fill="#c8102e"/>
<polygon points="385.4,263.0164 387.29999999999995,266.3224 383.5,266.3224" fill="#c8102e"/>
<polygon points="389.2,263.0164 391.09999999999997,266.3224 387.3,266.3224" fill="#c8102e"/>
<polygon points="387.3,260.21639999999996 389.2,263.5224 385.40000000000003,263.5224" fill="#c8102e"/>
<polygon points="386,268.5164 387.9,271.8224 384.1,271.8224" fill="#c8102e"/>
<polygon points="388.6,270.5164 390.5,273.8224 386.70000000000005,273.8224" fill="#c8102e"/>
<line x1="399" y1="253.3" x2="399" y2="268" stroke="#d0344a" stroke-width="1"/>
<line x1="396.75" y1="253.3" x2="401.25" y2="253.3" stroke="#d0344a" stroke-width="1"/>
<line x1="396.75" y1="268" x2="401.25" y2="268" stroke="#d0344a" stroke-width="1"/>
<polygon points="399,242.6164 400.9,245.92239999999998 397.1,245.92239999999998" fill="none" stroke="#d0344a" stroke-width="0.8"/>
<polygon points="397,250.6164 398.9,253.92239999999998 395.1,253.92239999999998" fill="none" stroke="#d0344a" stroke-width="0.8"/>
<polygon points="401,250.6164 402.9,253.92239999999998 399.1,253.92239999999998" fill="none" stroke="#d0344a" stroke-width="0.8"/>
<polygon points="397.5,260.0164 399.4,263.3224 395.6,263.3224" fill="none" stroke="#ffffff" stroke-width="0.8"/>
<polygon points="400.5,263.0164 402.4,266.3224 398.6,266.3224" fill="none" stroke="#ffffff" stroke-width="0.8"/>
<polygon points="398,266.5164 399.9,269.8224 396.1,269.8224" fill="none" stroke="#ffffff" stroke-width="0.8"/>
<polygon points="400.8,269.0164 402.7,272.3224 398.90000000000003,272.3224" fill="none" stroke="#ffffff" stroke-width="0.8"/>
<polyline points="345.7,226.3 345.7,214.2 373,214.2 373,226.3" fill="none" stroke="#2e2e2e" stroke-width="1.1"/>
<line x1="360.3" y1="202.5" x2="360.3" y2="217.6" stroke="#2e2e2e" stroke-width="1.6"/>
<polyline points="360.3,202.5 386.4,202.5 386.4,226.3" fill="none" stroke="#2e2e2e" stroke-width="1.1"/>
<line x1="386.4" y1="214" x2="386.4" y2="226.3" stroke="#2e2e2e" stroke-width="1.8"/>
<polyline points="386.4,214.2 400.3,214.2 400.3,218.3" fill="none" stroke="#2e2e2e" stroke-width="1.1"/>
<circle cx="347.70" cy="209.9" r="1.15" fill="#2a2a2a"/>
<circle cx="351.80" cy="209.9" r="1.15" fill="#2a2a2a"/>
<circle cx="355.90" cy="209.9" r="1.15" fill="#2a2a2a"/>
<circle cx="373.60" cy="198.1" r="1.15" fill="#2a2a2a"/>
<circle cx="394.20" cy="210.2" r="1.15" fill="#2a2a2a"/>
<text x="362.9" y="212.3" font-size="8.9" fill="#303030" color="#303030" textLength="13.4" lengthAdjust="spacingAndGlyphs">n.s.</text>
<line x1="449.5" y1="210" x2="449.5" y2="301.1" stroke="#1c1c1c" stroke-width="1.15"/>
<line x1="448.9" y1="300.5" x2="517.7" y2="300.5" stroke="#1c1c1c" stroke-width="1.15"/>
<line x1="445.9" y1="212.5" x2="449.5" y2="212.5" stroke="#1c1c1c" stroke-width="1.1"/>
<text x="443.1" y="215.5" font-size="8.9" fill="#303030" color="#303030" text-anchor="end">44</text>
<line x1="445.9" y1="230.5" x2="449.5" y2="230.5" stroke="#1c1c1c" stroke-width="1.1"/>
<text x="443.1" y="233.1" font-size="8.9" fill="#303030" color="#303030" text-anchor="end">42</text>
<line x1="445.9" y1="247.5" x2="449.5" y2="247.5" stroke="#1c1c1c" stroke-width="1.1"/>
<text x="443.1" y="250.6" font-size="8.9" fill="#303030" color="#303030" text-anchor="end">40</text>
<line x1="445.9" y1="265.5" x2="449.5" y2="265.5" stroke="#1c1c1c" stroke-width="1.1"/>
<text x="443.1" y="268.40000000000003" font-size="8.9" fill="#303030" color="#303030" text-anchor="end">38</text>
<line x1="445.9" y1="283.5" x2="449.5" y2="283.5" stroke="#1c1c1c" stroke-width="1.1"/>
<text x="443.1" y="286.1" font-size="8.9" fill="#303030" color="#303030" text-anchor="end">36</text>
<line x1="445.9" y1="300.5" x2="449.5" y2="300.5" stroke="#1c1c1c" stroke-width="1.1"/>
<text x="443.1" y="303.6" font-size="8.9" fill="#303030" color="#303030" text-anchor="end">34</text>
<text transform="translate(429,257.1) rotate(-90)" x="0" y="0" font-size="8.9" fill="#303030" color="#303030" text-anchor="middle" textLength="99.3" lengthAdjust="spacingAndGlyphs">Small intestine length (cm)</text>
<rect x="454.1" y="265.4" width="8.8" height="35.10000000000002" fill="#fff" stroke="#4cb04a" stroke-width="1.2"/>
<rect x="468.0" y="238.4" width="8.000000000000046" height="62.099999999999994" fill="#fff" stroke="#3563a3" stroke-width="1.2"/>
<rect x="480.20000000000005" y="244.2" width="8.099999999999955" height="56.30000000000001" fill="#7e90c2" stroke="#3563a3" stroke-width="1.2"/>
<rect x="494.1" y="265.4" width="7.9999999999999885" height="35.10000000000002" fill="#fff" stroke="#d0344a" stroke-width="1.2"/>
<rect x="506.8" y="247" width="7.600000000000011" height="53.5" fill="#eb8a84" stroke="#d0344a" stroke-width="1.2"/>
<line x1="458.5" y1="256.2" x2="458.5" y2="276" stroke="#2ba52b" stroke-width="1"/>
<line x1="456.25" y1="256.2" x2="460.75" y2="256.2" stroke="#2ba52b" stroke-width="1"/>
<line x1="456.25" y1="276" x2="460.75" y2="276" stroke="#2ba52b" stroke-width="1"/>
<rect x="454.0" y="254.6" width="3.2" height="3.2" fill="#2ba52b"/>
<rect x="456.9" y="254.6" width="3.2" height="3.2" fill="#2ba52b"/>
<rect x="459.79999999999995" y="254.6" width="3.2" height="3.2" fill="#2ba52b"/>
<rect x="454.0" y="263.5" width="3.2" height="3.2" fill="#2ba52b"/>
<rect x="456.9" y="263.5" width="3.2" height="3.2" fill="#2ba52b"/>
<rect x="459.79999999999995" y="263.5" width="3.2" height="3.2" fill="#2ba52b"/>
<rect x="456.9" y="281.4" width="3.2" height="3.2" fill="#2ba52b"/>
<line x1="472" y1="230.2" x2="472" y2="245.5" stroke="#1d4b8c" stroke-width="1"/>
<line x1="469.75" y1="230.2" x2="474.25" y2="230.2" stroke="#1d4b8c" stroke-width="1"/>
<line x1="469.75" y1="245.5" x2="474.25" y2="245.5" stroke="#1d4b8c" stroke-width="1"/>
<circle cx="469" cy="230.2" r="1.7" fill="#1d4b8c"/>
<circle cx="472" cy="230.2" r="1.7" fill="#1d4b8c"/>
<circle cx="475" cy="230.2" r="1.7" fill="#1d4b8c"/>
<circle cx="469" cy="238.6" r="1.7" fill="#1d4b8c"/>
<circle cx="472" cy="238.6" r="1.7" fill="#1d4b8c"/>
<circle cx="475" cy="238.6" r="1.7" fill="#1d4b8c"/>
<circle cx="472" cy="247.6" r="1.7" fill="#1d4b8c"/>
<circle cx="472" cy="256.7" r="1.7" fill="#1d4b8c"/>
<line x1="484.2" y1="238.4" x2="484.2" y2="250" stroke="#3563a3" stroke-width="1"/>
<line x1="481.95" y1="238.4" x2="486.45" y2="238.4" stroke="#3563a3" stroke-width="1"/>
<line x1="481.95" y1="250" x2="486.45" y2="250" stroke="#3563a3" stroke-width="1"/>
<circle cx="484.2" cy="230.5" r="1.8" fill="none" stroke="#3563a3" stroke-width="0.8"/>
<polygon points="482.6,237.6164 484.5,240.92239999999998 480.70000000000005,240.92239999999998" fill="none" stroke="#3563a3" stroke-width="0.8"/>
<polygon points="485.8,237.6164 487.7,240.92239999999998 483.90000000000003,240.92239999999998" fill="none" stroke="#3563a3" stroke-width="0.8"/>
<circle cx="482.5" cy="246.5" r="1.7" fill="none" stroke="#dfe5f3" stroke-width="0.8"/>
<circle cx="486" cy="246.5" r="1.7" fill="none" stroke="#dfe5f3" stroke-width="0.8"/>
<line x1="498.1" y1="255" x2="498.1" y2="274.8" stroke="#c8102e" stroke-width="1"/>
<line x1="495.85" y1="255" x2="500.35" y2="255" stroke="#c8102e" stroke-width="1"/>
<line x1="495.85" y1="274.8" x2="500.35" y2="274.8" stroke="#c8102e" stroke-width="1"/>
<polygon points="498.1,246.31640000000002 500.0,249.6224 496.20000000000005,249.6224" fill="#c8102e"/>
<polygon points="498.1,253.2164 500.0,256.5224 496.20000000000005,256.5224" fill="#c8102e"/>
<polygon points="495.3,272.8164 497.2,276.1224 493.40000000000003,276.1224" fill="#c8102e"/>
<polygon points="498.1,272.8164 500.0,276.1224 496.20000000000005,276.1224" fill="#c8102e"/>
<polygon points="500.9,272.8164 502.79999999999995,276.1224 499.0,276.1224" fill="#c8102e"/>
<line x1="510.6" y1="238.8" x2="510.6" y2="256" stroke="#d0344a" stroke-width="1"/>
<line x1="508.35" y1="238.8" x2="512.85" y2="238.8" stroke="#d0344a" stroke-width="1"/>
<line x1="508.35" y1="256" x2="512.85" y2="256" stroke="#d0344a" stroke-width="1"/>
<polygon points="507,228.81640000000002 508.9,232.1224 505.1,232.1224" fill="none" stroke="#d0344a" stroke-width="0.8"/>
<polygon points="510.6,228.81640000000002 512.5,232.1224 508.70000000000005,232.1224" fill="none" stroke="#d0344a" stroke-width="0.8"/>
<polygon points="514.2,228.81640000000002 516.1,232.1224 512.3000000000001,232.1224" fill="none" stroke="#d0344a" stroke-width="0.8"/>
<polygon points="507,236.81640000000002 508.9,240.1224 505.1,240.1224" fill="none" stroke="#d0344a" stroke-width="0.8"/>
<polygon points="510.6,236.81640000000002 512.5,240.1224 508.70000000000005,240.1224" fill="none" stroke="#d0344a" stroke-width="0.8"/>
<polygon points="514.2,236.81640000000002 516.1,240.1224 512.3000000000001,240.1224" fill="none" stroke="#d0344a" stroke-width="0.8"/>
<polygon points="508.5,264.0164 510.4,267.3224 506.6,267.3224" fill="none" stroke="#c84a50" stroke-width="0.8"/>
<polygon points="512.5,264.0164 514.4,267.3224 510.6,267.3224" fill="none" stroke="#c84a50" stroke-width="0.8"/>
<polyline points="455.7,226.3 455.7,214.2 482.3,214.2 482.3,226.3" fill="none" stroke="#2e2e2e" stroke-width="1.1"/>
<line x1="469.9" y1="202.4" x2="469.9" y2="217.6" stroke="#2e2e2e" stroke-width="1.6"/>
<polyline points="469.9,202.4 496.4,202.4 496.4,226.3" fill="none" stroke="#2e2e2e" stroke-width="1.1"/>
<line x1="496.4" y1="214" x2="496.4" y2="226.3" stroke="#2e2e2e" stroke-width="1.8"/>
<polyline points="496.4,214.2 510.3,214.2 510.3,217.6" fill="none" stroke="#2e2e2e" stroke-width="1.1"/>
<circle cx="460.35" cy="209.9" r="1.15" fill="#2a2a2a"/>
<circle cx="464.45" cy="209.9" r="1.15" fill="#2a2a2a"/>
<circle cx="480.20" cy="197.4" r="1.15" fill="#2a2a2a"/>
<circle cx="484.30" cy="197.4" r="1.15" fill="#2a2a2a"/>
<circle cx="488.40" cy="197.4" r="1.15" fill="#2a2a2a"/>
<circle cx="503.80" cy="210" r="1.15" fill="#2a2a2a"/>
<text x="472.9" y="212.3" font-size="8.9" fill="#303030" color="#303030" textLength="13.2" lengthAdjust="spacingAndGlyphs">n.s.</text>
<rect x="88.2" y="365.7" width="4" height="4" fill="#3a923a"/>
<text x="95.0" y="370.2" font-size="8.9" fill="#303030" color="#303030" textLength="14.5" lengthAdjust="spacingAndGlyphs">BM</text>
<circle cx="115.6" cy="349" r="2.3" fill="#173f6e"/>
<text x="120.9" y="351.5" font-size="8.9" fill="#303030" color="#303030" textLength="28.2" lengthAdjust="spacingAndGlyphs">BM + T</text>
<polygon points="115.6,359.1812 118.3,363.8792 112.89999999999999,363.8792" fill="#9c1a2e"/>
<text x="120.9" y="364.5" font-size="8.9" fill="#303030" color="#303030" textLength="53.0" lengthAdjust="spacingAndGlyphs">BM + T + rLIF</text>
<circle cx="115.6" cy="374.6" r="2.1" fill="none" stroke="#3563a3" stroke-width="0.8"/>
<text x="120.9" y="377.1" font-size="8.9" fill="#303030" color="#303030" textLength="28.2" lengthAdjust="spacingAndGlyphs">BM + T</text>
<polygon points="115.6,384.2856 118.19999999999999,388.8096 113.0,388.8096" fill="none" stroke="#d0344a" stroke-width="0.8"/>
<text x="120.9" y="389.5" font-size="8.9" fill="#303030" color="#303030" textLength="53.0" lengthAdjust="spacingAndGlyphs">BM + T + rLIF</text>
<line x1="182" y1="344.6" x2="182" y2="362.5" stroke="#333" stroke-width="1"/>
<text x="185.6" y="356.3" font-size="8.9" fill="#303030" color="#303030" textLength="22.9" lengthAdjust="spacingAndGlyphs">+ PBS</text>
<line x1="182" y1="371" x2="182" y2="390" stroke="#333" stroke-width="1"/>
<text x="185.6" y="383.5" font-size="8.9" fill="#303030" color="#303030" textLength="27.0" lengthAdjust="spacingAndGlyphs">+ rIL12</text>
<line x1="143.5" y1="413" x2="143.5" y2="499.1" stroke="#1c1c1c" stroke-width="1.15"/>
<line x1="142.9" y1="498.5" x2="207.3" y2="498.5" stroke="#1c1c1c" stroke-width="1.15"/>
<line x1="139.9" y1="416.5" x2="143.5" y2="416.5" stroke="#1c1c1c" stroke-width="1.1"/>
<text x="136.5" y="419.1" font-size="8.9" fill="#303030" color="#303030" text-anchor="end">400</text>
<line x1="139.9" y1="437.5" x2="143.5" y2="437.5" stroke="#1c1c1c" stroke-width="1.1"/>
<text x="136.5" y="440.40000000000003" font-size="8.9" fill="#303030" color="#303030" text-anchor="end">300</text>
<line x1="139.9" y1="458.5" x2="143.5" y2="458.5" stroke="#1c1c1c" stroke-width="1.1"/>
<text x="136.5" y="461.1" font-size="8.9" fill="#303030" color="#303030" text-anchor="end">200</text>
<line x1="139.9" y1="478.5" x2="143.5" y2="478.5" stroke="#1c1c1c" stroke-width="1.1"/>
<text x="136.5" y="481.3" font-size="8.9" fill="#303030" color="#303030" text-anchor="end">100</text>
<line x1="139.9" y1="498.5" x2="143.5" y2="498.5" stroke="#1c1c1c" stroke-width="1.1"/>
<text x="136.5" y="501.8" font-size="8.9" fill="#303030" color="#303030" text-anchor="end">0</text>
<text transform="translate(103.3,456.2) rotate(-90)" x="0" y="0" font-size="8.9" fill="#303030" color="#303030" text-anchor="middle" textLength="53.1" lengthAdjust="spacingAndGlyphs">MHC-II MFI on</text>
<text transform="translate(113.8,456.1) rotate(-90)" x="0" y="0" font-size="8.9" fill="#303030" color="#303030" text-anchor="middle" textLength="77.6" lengthAdjust="spacingAndGlyphs">intestinal epithelium</text>
<rect x="146.9" y="487.2" width="7.8" height="11.300000000000011" fill="#fff" stroke="#4cb04a" stroke-width="1.2"/>
<rect x="160.0" y="449.5" width="6.9999999999999885" height="49.0" fill="#fff" stroke="#3563a3" stroke-width="1.2"/>
<rect x="170.6" y="444.3" width="7.399999999999994" height="54.19999999999999" fill="#7e90c2" stroke="#3563a3" stroke-width="1.2"/>
<rect x="184.1" y="464.5" width="7.100000000000011" height="34.0" fill="#fff" stroke="#d0344a" stroke-width="1.2"/>
<rect x="194.79999999999998" y="444.3" width="7.600000000000011" height="54.19999999999999" fill="#eb8a84" stroke="#d0344a" stroke-width="1.2"/>
<rect x="149.20000000000002" y="484.4" width="3.2" height="3.2" fill="#2ba52b"/>
<rect x="146.70000000000002" y="484.9" width="3.2" height="3.2" fill="#2ba52b"/>
<rect x="151.70000000000002" y="485.4" width="3.2" height="3.2" fill="#2ba52b"/>
<rect x="147.95000000000002" y="485.9" width="3.2" height="3.2" fill="#2ba52b"/>
<line x1="163.2" y1="445" x2="163.2" y2="456" stroke="#1d4b8c" stroke-width="1"/>
<line x1="160.95" y1="445" x2="165.45" y2="445" stroke="#1d4b8c" stroke-width="1"/>
<line x1="160.95" y1="456" x2="165.45" y2="456" stroke="#1d4b8c" stroke-width="1"/>
<circle cx="163.2" cy="441.5" r="1.7" fill="#1d4b8c"/>
<circle cx="161" cy="449.5" r="1.7" fill="#1d4b8c"/>
<circle cx="163.2" cy="448.5" r="1.7" fill="#1d4b8c"/>
<circle cx="165.4" cy="449.5" r="1.7" fill="#1d4b8c"/>
<circle cx="163.2" cy="451.5" r="1.7" fill="#1d4b8c"/>
<circle cx="162.4" cy="454" r="1.7" fill="#1d4b8c"/>
<circle cx="163.8" cy="456.5" r="1.7" fill="#1d4b8c"/>
<circle cx="163.2" cy="458.5" r="1.7" fill="#1d4b8c"/>
<line x1="174.3" y1="431.3" x2="174.3" y2="457" stroke="#3563a3" stroke-width="1"/>
<line x1="172.05" y1="431.3" x2="176.55" y2="431.3" stroke="#3563a3" stroke-width="1"/>
<line x1="172.05" y1="457" x2="176.55" y2="457" stroke="#3563a3" stroke-width="1"/>
<ellipse cx="174.3" cy="421.8" rx="2.3" ry="1.5" fill="none" stroke="#3563a3" stroke-width="0.9"/>
<circle cx="174.3" cy="436.5" r="1.7" fill="none" stroke="#3563a3" stroke-width="0.8"/>
<circle cx="174.3" cy="440" r="1.7" fill="none" stroke="#3563a3" stroke-width="0.8"/>
<circle cx="174.3" cy="443.5" r="1.7" fill="none" stroke="#3563a3" stroke-width="0.8"/>
<circle cx="173.2" cy="449" r="1.7" fill="none" stroke="#e6ebf6" stroke-width="0.8"/>
<circle cx="175.4" cy="452.5" r="1.7" fill="none" stroke="#e6ebf6" stroke-width="0.8"/>
<circle cx="174" cy="456" r="1.7" fill="none" stroke="#e6ebf6" stroke-width="0.8"/>
<line x1="187.6" y1="453" x2="187.6" y2="470" stroke="#c8102e" stroke-width="1"/>
<line x1="185.35" y1="453" x2="189.85" y2="453" stroke="#c8102e" stroke-width="1"/>
<line x1="185.35" y1="470" x2="189.85" y2="470" stroke="#c8102e" stroke-width="1"/>
<polygon points="187.6,447.0164 189.5,450.3224 185.7,450.3224" fill="#c8102e"/>
<polygon points="185.5,456.0164 187.4,459.3224 183.6,459.3224" fill="#c8102e"/>
<polygon points="189.7,456.0164 191.6,459.3224 187.79999999999998,459.3224" fill="#c8102e"/>
<polygon points="187.6,459.0164 189.5,462.3224 185.7,462.3224" fill="#c8102e"/>
<polygon points="186.6,474.6164 188.5,477.92240000000004 184.7,477.92240000000004" fill="#c8102e"/>
<polygon points="188.6,478.71639999999996 190.5,482.0224 186.7,482.0224" fill="#c8102e"/>
<line x1="198.6" y1="427.7" x2="198.6" y2="462" stroke="#d0344a" stroke-width="1"/>
<line x1="196.35" y1="427.7" x2="200.85" y2="427.7" stroke="#d0344a" stroke-width="1"/>
<line x1="196.35" y1="462" x2="200.85" y2="462" stroke="#d0344a" stroke-width="1"/>
<polygon points="197.4,420.21639999999996 199.3,423.5224 195.5,423.5224" fill="none" stroke="#d0344a" stroke-width="0.8"/>
<polygon points="199.8,420.21639999999996 201.70000000000002,423.5224 197.9,423.5224" fill="none" stroke="#d0344a" stroke-width="0.8"/>
<polygon points="198.6,426.9208 200.4,430.0528 196.79999999999998,430.0528" fill="#d0344a"/>
<polygon points="197.2,448.0164 199.1,451.3224 195.29999999999998,451.3224" fill="none" stroke="#c8404a" stroke-width="0.8"/>
<polygon points="200,453.0164 201.9,456.3224 198.1,456.3224" fill="none" stroke="#c8404a" stroke-width="0.8"/>
<polygon points="198.6,456.5164 200.5,459.8224 196.7,459.8224" fill="none" stroke="#c8404a" stroke-width="0.8"/>
<polyline points="148.6,428.7 148.6,414.4 175.7,414.4 175.7,417" fill="none" stroke="#2e2e2e" stroke-width="1.1"/>
<line x1="162" y1="403.2" x2="162" y2="423.6" stroke="#2e2e2e" stroke-width="1.6"/>
<polyline points="162,403.2 187.3,403.2 187.3,428.7" fill="none" stroke="#2e2e2e" stroke-width="1.1"/>
<line x1="187.3" y1="414" x2="187.3" y2="428.7" stroke="#2e2e2e" stroke-width="1.8"/>
<polyline points="187.3,414.4 199.2,414.4 199.2,417" fill="none" stroke="#2e2e2e" stroke-width="1.1"/>
<circle cx="151.40" cy="410.9" r="1.15" fill="#2a2a2a"/>
<circle cx="155.50" cy="410.9" r="1.15" fill="#2a2a2a"/>
<circle cx="159.60" cy="410.9" r="1.15" fill="#2a2a2a"/>
<circle cx="175.30" cy="399.2" r="1.15" fill="#2a2a2a"/>
<circle cx="194.10" cy="410.5" r="1.15" fill="#2a2a2a"/>
<text x="163.6" y="413" font-size="8.9" fill="#303030" color="#303030" textLength="12.5" lengthAdjust="spacingAndGlyphs">n.s.</text>
<circle cx="311.1" cy="341.2" r="2.3" fill="#173f6e"/>
<text x="316.6" y="343.7" font-size="8.9" fill="#303030" color="#303030" textLength="28.0" lengthAdjust="spacingAndGlyphs">BM + T</text>
<polygon points="311.1,351.8812 313.8,356.5792 308.40000000000003,356.5792" fill="#9c1a2e"/>
<text x="316.6" y="357.2" font-size="8.9" fill="#303030" color="#303030" textLength="52.1" lengthAdjust="spacingAndGlyphs">BM + T + rLIF</text>
<circle cx="311.1" cy="366.8" r="2.1" fill="none" stroke="#3563a3" stroke-width="0.8"/>
<text x="316.6" y="369.3" font-size="8.9" fill="#303030" color="#303030" textLength="28.0" lengthAdjust="spacingAndGlyphs">BM + T</text>
<polygon points="311.1,376.4856 313.70000000000005,381.0096 308.5,381.0096" fill="none" stroke="#d0344a" stroke-width="0.8"/>
<text x="316.6" y="381.7" font-size="8.9" fill="#303030" color="#303030" textLength="52.1" lengthAdjust="spacingAndGlyphs">BM + T + rLIF</text>
<line x1="378" y1="336.4" x2="378" y2="354.7" stroke="#333" stroke-width="1"/>
<text x="381.2" y="348.8" font-size="8.9" fill="#303030" color="#303030" textLength="22.9" lengthAdjust="spacingAndGlyphs">+ PBS</text>
<line x1="378" y1="363.8" x2="378" y2="382.1" stroke="#333" stroke-width="1"/>
<text x="381.2" y="375.5" font-size="8.9" fill="#303030" color="#303030" textLength="26.6" lengthAdjust="spacingAndGlyphs">+ rIL12</text>
<line x1="280.5" y1="408" x2="280.5" y2="499.1" stroke="#1c1c1c" stroke-width="1.15"/>
<line x1="279.9" y1="498.5" x2="436.5" y2="498.5" stroke="#1c1c1c" stroke-width="1.15"/>
<line x1="276.9" y1="410.5" x2="280.5" y2="410.5" stroke="#1c1c1c" stroke-width="1.1"/>
<text x="273.7" y="413.70000000000005" font-size="8.9" fill="#303030" color="#303030" text-anchor="end">2.5</text>
<line x1="276.9" y1="428.5" x2="280.5" y2="428.5" stroke="#1c1c1c" stroke-width="1.1"/>
<text x="273.7" y="431.20000000000005" font-size="8.9" fill="#303030" color="#303030" text-anchor="end">2.0</text>
<line x1="276.9" y1="445.5" x2="280.5" y2="445.5" stroke="#1c1c1c" stroke-width="1.1"/>
<text x="273.7" y="448.6" font-size="8.9" fill="#303030" color="#303030" text-anchor="end">1.5</text>
<line x1="276.9" y1="462.5" x2="280.5" y2="462.5" stroke="#1c1c1c" stroke-width="1.1"/>
<text x="273.7" y="466.0" font-size="8.9" fill="#303030" color="#303030" text-anchor="end">1.0</text>
<line x1="276.9" y1="480.5" x2="280.5" y2="480.5" stroke="#1c1c1c" stroke-width="1.1"/>
<text x="273.7" y="483.5" font-size="8.9" fill="#303030" color="#303030" text-anchor="end">0.5</text>
<line x1="276.9" y1="497.5" x2="280.5" y2="497.5" stroke="#1c1c1c" stroke-width="1.1"/>
<text x="273.7" y="500.90000000000003" font-size="8.9" fill="#303030" color="#303030" text-anchor="end">0.0</text>
<text transform="translate(255.5,453.1) rotate(-90)" x="0" y="0" font-size="8.9" fill="#303030" color="#303030" text-anchor="middle" textLength="75.3" lengthAdjust="spacingAndGlyphs">Relative cell number</text>
<line x1="281.5" y1="502" x2="328.9" y2="502" stroke="#6a6a6a" stroke-width="1.4"/>
<line x1="337.1" y1="502" x2="379.6" y2="502" stroke="#6a6a6a" stroke-width="1.4"/>
<line x1="387.7" y1="502" x2="435.1" y2="502" stroke="#6a6a6a" stroke-width="1.4"/>
<text x="304.7" y="511.6" font-size="8.9" fill="#303030" color="#303030" text-anchor="middle" textLength="28" lengthAdjust="spacingAndGlyphs">Spleen</text>
<text x="358.8" y="511.6" font-size="8.9" fill="#303030" color="#303030" text-anchor="middle" textLength="19.6" lengthAdjust="spacingAndGlyphs">MLN</text>
<text x="410.6" y="511.6" font-size="8.9" fill="#303030" color="#303030" text-anchor="middle" textLength="10.6" lengthAdjust="spacingAndGlyphs">LP</text>
<rect x="284.90000000000003" y="462.5" width="7.3" height="35.5" fill="#fff" stroke="#3563a3" stroke-width="1.2"/>
<rect x="296.0" y="463.5" width="7.3" height="34.5" fill="#7e90c2" stroke="#3563a3" stroke-width="1.2"/>
<rect x="310.1" y="477.3" width="7.3" height="20.69999999999999" fill="#fff" stroke="#d0344a" stroke-width="1.2"/>
<rect x="321.6" y="470.2" width="7.400000000000023" height="27.80000000000001" fill="#eb8a84" stroke="#d0344a" stroke-width="1.2"/>
<line x1="288.5" y1="453.1" x2="288.5" y2="471.9" stroke="#1d4b8c" stroke-width="1"/>
<line x1="286.25" y1="453.1" x2="290.75" y2="453.1" stroke="#1d4b8c" stroke-width="1"/>
<line x1="286.25" y1="471.9" x2="290.75" y2="471.9" stroke="#1d4b8c" stroke-width="1"/>
<circle cx="288.5" cy="463.4" r="2.8" fill="#1d4b8c"/>
<circle cx="288.5" cy="445.2" r="1.7" fill="#1d4b8c"/>
<circle cx="288.5" cy="481.5" r="1.7" fill="#1d4b8c"/>
<line x1="299.6" y1="459" x2="299.6" y2="470" stroke="#3563a3" stroke-width="1"/>
<line x1="297.35" y1="459" x2="301.85" y2="459" stroke="#3563a3" stroke-width="1"/>
<line x1="297.35" y1="470" x2="301.85" y2="470" stroke="#3563a3" stroke-width="1"/>
<circle cx="299.6" cy="458" r="1.7" fill="none" stroke="#3563a3" stroke-width="0.8"/>
<circle cx="298.0" cy="460" r="1.7" fill="none" stroke="#3563a3" stroke-width="0.8"/>
<circle cx="301.20000000000005" cy="462" r="1.7" fill="none" stroke="#3563a3" stroke-width="0.8"/>
<circle cx="298.8" cy="464" r="1.7" fill="none" stroke="#3563a3" stroke-width="0.8"/>
<circle cx="300.40000000000003" cy="466" r="1.7" fill="none" stroke="#3563a3" stroke-width="0.8"/>
<circle cx="299.6" cy="468" r="1.7" fill="none" stroke="#3563a3" stroke-width="0.8"/>
<circle cx="298.0" cy="470" r="1.7" fill="none" stroke="#3563a3" stroke-width="0.8"/>
<line x1="313.7" y1="470" x2="313.7" y2="484" stroke="#c8102e" stroke-width="1"/>
<line x1="311.45" y1="470" x2="315.95" y2="470" stroke="#c8102e" stroke-width="1"/>
<line x1="311.45" y1="484" x2="315.95" y2="484" stroke="#c8102e" stroke-width="1"/>
<polygon points="313.7,468.91639999999995 315.59999999999997,472.2224 311.8,472.2224" fill="#c8102e"/>
<polygon points="312.09999999999997,469.0164 313.99999999999994,472.3224 310.2,472.3224" fill="#c8102e"/>
<polygon points="315.3,475.3164 317.2,478.6224 313.40000000000003,478.6224" fill="#c8102e"/>
<polygon points="312.9,480.6164 314.79999999999995,483.92240000000004 311.0,483.92240000000004" fill="#c8102e"/>
<polygon points="314.5,487.0164 316.4,490.3224 312.6,490.3224" fill="#c8102e"/>
<line x1="325.3" y1="465" x2="325.3" y2="476" stroke="#eb8a84" stroke-width="1"/>
<line x1="323.05" y1="465" x2="327.55" y2="465" stroke="#eb8a84" stroke-width="1"/>
<line x1="323.05" y1="476" x2="327.55" y2="476" stroke="#eb8a84" stroke-width="1"/>
<polygon points="325.3,462.41639999999995 327.2,465.7224 323.40000000000003,465.7224" fill="none" stroke="#d0344a" stroke-width="0.8"/>
<polygon points="323.7,463.0164 325.59999999999997,466.3224 321.8,466.3224" fill="none" stroke="#d0344a" stroke-width="0.8"/>
<polygon points="326.90000000000003,466.71639999999996 328.8,470.0224 325.00000000000006,470.0224" fill="none" stroke="#d0344a" stroke-width="0.8"/>
<polygon points="324.5,470.0164 326.4,473.3224 322.6,473.3224" fill="none" stroke="#d0344a" stroke-width="0.8"/>
<rect x="336.90000000000003" y="462.5" width="7.699999999999977" height="35.5" fill="#fff" stroke="#3563a3" stroke-width="1.2"/>
<rect x="348.5" y="461.4" width="7.200000000000034" height="36.60000000000002" fill="#7e90c2" stroke="#3563a3" stroke-width="1.2"/>
<rect x="360.70000000000005" y="467" width="7.099999999999954" height="31" fill="#fff" stroke="#d0344a" stroke-width="1.2"/>
<rect x="371.90000000000003" y="454.3" width="7.699999999999977" height="43.69999999999999" fill="#eb8a84" stroke="#d0344a" stroke-width="1.2"/>
<line x1="340.8" y1="459.2" x2="340.8" y2="465.5" stroke="#1d4b8c" stroke-width="1"/>
<line x1="338.55" y1="459.2" x2="343.05" y2="459.2" stroke="#1d4b8c" stroke-width="1"/>
<line x1="338.55" y1="465.5" x2="343.05" y2="465.5" stroke="#1d4b8c" stroke-width="1"/>
<circle cx="340.8" cy="456" r="1.7" fill="#1d4b8c"/>
<circle cx="338.4" cy="462.5" r="1.7" fill="#1d4b8c"/>
<circle cx="340.8" cy="462.5" r="1.7" fill="#1d4b8c"/>
<circle cx="343.2" cy="462.5" r="1.7" fill="#1d4b8c"/>
<circle cx="340.8" cy="470" r="1.7" fill="#1d4b8c"/>
<line x1="352.1" y1="450.5" x2="352.1" y2="472" stroke="#3563a3" stroke-width="1"/>
<line x1="349.85" y1="450.5" x2="354.35" y2="450.5" stroke="#3563a3" stroke-width="1"/>
<line x1="349.85" y1="472" x2="354.35" y2="472" stroke="#3563a3" stroke-width="1"/>
<circle cx="352.1" cy="440" r="1.7" fill="none" stroke="#3563a3" stroke-width="0.8"/>
<circle cx="352.1" cy="446" r="1.7" fill="none" stroke="#3563a3" stroke-width="0.8"/>
<circle cx="352.1" cy="452.5" r="1.7" fill="none" stroke="#3563a3" stroke-width="0.8"/>
<circle cx="350.8" cy="456" r="1.7" fill="none" stroke="#3563a3" stroke-width="0.8"/>
<circle cx="353.4" cy="456" r="1.7" fill="none" stroke="#3563a3" stroke-width="0.8"/>
<circle cx="352.1" cy="459" r="1.7" fill="none" stroke="#3563a3" stroke-width="0.8"/>
<circle cx="352.1" cy="465" r="1.7" fill="none" stroke="#dfe5f3" stroke-width="0.8"/>
<circle cx="352.1" cy="470.5" r="1.7" fill="none" stroke="#dfe5f3" stroke-width="0.8"/>
<circle cx="352.1" cy="476" r="1.7" fill="none" stroke="#dfe5f3" stroke-width="0.8"/>
<circle cx="352.1" cy="481.5" r="1.7" fill="none" stroke="#dfe5f3" stroke-width="0.8"/>
<line x1="364.3" y1="463" x2="364.3" y2="470" stroke="#c8102e" stroke-width="1"/>
<line x1="362.05" y1="463" x2="366.55" y2="463" stroke="#c8102e" stroke-width="1"/>
<line x1="362.05" y1="470" x2="366.55" y2="470" stroke="#c8102e" stroke-width="1"/>
<polygon points="363,461.5164 364.9,464.8224 361.1,464.8224" fill="#c8102e"/>
<polygon points="366,460.0164 367.9,463.3224 364.1,463.3224" fill="#c8102e"/>
<polygon points="362.2,465.6164 364.09999999999997,468.92240000000004 360.3,468.92240000000004" fill="#c8102e"/>
<polygon points="366.2,465.6164 368.09999999999997,468.92240000000004 364.3,468.92240000000004" fill="#c8102e"/>
<polygon points="364.3,464.0164 366.2,467.3224 362.40000000000003,467.3224" fill="#c8102e"/>
<line x1="375.8" y1="437.3" x2="375.8" y2="470" stroke="#d0344a" stroke-width="1"/>
<line x1="373.55" y1="437.3" x2="378.05" y2="437.3" stroke="#d0344a" stroke-width="1"/>
<line x1="373.55" y1="470" x2="378.05" y2="470" stroke="#d0344a" stroke-width="1"/>
<polygon points="375.8,427.5164 377.7,430.8224 373.90000000000003,430.8224" fill="none" stroke="#d0344a" stroke-width="0.8"/>
<polygon points="375.8,434.5164 377.7,437.8224 373.90000000000003,437.8224" fill="none" stroke="#d0344a" stroke-width="0.8"/>
<polygon points="375.8,437.0164 377.7,440.3224 373.90000000000003,440.3224" fill="none" stroke="#d0344a" stroke-width="0.8"/>
<polygon points="374.4,455.0164 376.29999999999995,458.3224 372.5,458.3224" fill="none" stroke="#c8404a" stroke-width="0.8"/>
<polygon points="377.2,458.5164 379.09999999999997,461.8224 375.3,461.8224" fill="none" stroke="#c8404a" stroke-width="0.8"/>
<polygon points="374.6,462.5164 376.5,465.8224 372.70000000000005,465.8224" fill="none" stroke="#c8404a" stroke-width="0.8"/>
<polygon points="377.2,465.5164 379.09999999999997,468.8224 375.3,468.8224" fill="none" stroke="#c8404a" stroke-width="0.8"/>
<polygon points="375.8,475.0164 377.7,478.3224 373.90000000000003,478.3224" fill="none" stroke="#c8404a" stroke-width="0.8"/>
<rect x="387.70000000000005" y="462" width="6.899999999999966" height="36" fill="#fff" stroke="#3563a3" stroke-width="1.2"/>
<rect x="399.0" y="464" width="6.900000000000023" height="34" fill="#7e90c2" stroke="#3563a3" stroke-width="1.2"/>
<rect x="413.0" y="476.3" width="6.900000000000023" height="21.69999999999999" fill="#fff" stroke="#d0344a" stroke-width="1.2"/>
<rect x="424.1" y="464" width="7.699999999999977" height="34" fill="#eb8a84" stroke="#d0344a" stroke-width="1.2"/>
<line x1="391.2" y1="459" x2="391.2" y2="466" stroke="#1d4b8c" stroke-width="1"/>
<line x1="388.95" y1="459" x2="393.45" y2="459" stroke="#1d4b8c" stroke-width="1"/>
<line x1="388.95" y1="466" x2="393.45" y2="466" stroke="#1d4b8c" stroke-width="1"/>
<circle cx="390" cy="457.8" r="1.7" fill="#1d4b8c"/>
<circle cx="392.4" cy="458.6" r="1.7" fill="#1d4b8c"/>
<circle cx="389" cy="461.4" r="1.7" fill="#1d4b8c"/>
<circle cx="393.4" cy="461.4" r="1.7" fill="#1d4b8c"/>
<circle cx="391.2" cy="463.5" r="1.7" fill="#1d4b8c"/>
<circle cx="389.6" cy="466" r="1.7" fill="#1d4b8c"/>
<circle cx="392.8" cy="466.5" r="1.7" fill="#1d4b8c"/>
<line x1="402.4" y1="457.9" x2="402.4" y2="468" stroke="#3563a3" stroke-width="1"/>
<line x1="400.15" y1="457.9" x2="404.65" y2="457.9" stroke="#3563a3" stroke-width="1"/>
<line x1="400.15" y1="468" x2="404.65" y2="468" stroke="#3563a3" stroke-width="1"/>
<circle cx="402.4" cy="451.8" r="1.7" fill="none" stroke="#3563a3" stroke-width="0.8"/>
<circle cx="402.4" cy="455.4" r="1.7" fill="none" stroke="#3563a3" stroke-width="0.8"/>
<circle cx="401.2" cy="460" r="1.7" fill="none" stroke="#3563a3" stroke-width="0.8"/>
<circle cx="403.6" cy="463" r="1.7" fill="none" stroke="#3563a3" stroke-width="0.8"/>
<circle cx="402.4" cy="467" r="1.7" fill="none" stroke="#dfe5f3" stroke-width="0.8"/>
<line x1="416.5" y1="470" x2="416.5" y2="482" stroke="#c8102e" stroke-width="1"/>
<line x1="414.25" y1="470" x2="418.75" y2="470" stroke="#c8102e" stroke-width="1"/>
<line x1="414.25" y1="482" x2="418.75" y2="482" stroke="#c8102e" stroke-width="1"/>
<polygon points="415.2,466.1164 417.09999999999997,469.42240000000004 413.3,469.42240000000004" fill="#c8102e"/>
<polygon points="417.8,468.1164 419.7,471.42240000000004 415.90000000000003,471.42240000000004" fill="#c8102e"/>
<polygon points="414.5,476.3164 416.4,479.6224 412.6,479.6224" fill="#c8102e"/>
<polygon points="418.5,476.3164 420.4,479.6224 416.6,479.6224" fill="#c8102e"/>
<polygon points="416.5,478.6164 418.4,481.92240000000004 414.6,481.92240000000004" fill="#c8102e"/>
<line x1="428" y1="454.5" x2="428" y2="474" stroke="#d0344a" stroke-width="1"/>
<line x1="425.75" y1="454.5" x2="430.25" y2="454.5" stroke="#d0344a" stroke-width="1"/>
<line x1="425.75" y1="474" x2="430.25" y2="474" stroke="#d0344a" stroke-width="1"/>
<polygon points="428,448.41639999999995 429.9,451.7224 426.1,451.7224" fill="none" stroke="#d0344a" stroke-width="0.8"/>
<polygon points="428,453.21639999999996 429.9,456.5224 426.1,456.5224" fill="none" stroke="#d0344a" stroke-width="0.8"/>
<polygon points="426.4,456.6164 428.29999999999995,459.92240000000004 424.5,459.92240000000004" fill="none" stroke="#d0344a" stroke-width="0.8"/>
<polygon points="429.6,456.6164 431.5,459.92240000000004 427.70000000000005,459.92240000000004" fill="none" stroke="#d0344a" stroke-width="0.8"/>
<polygon points="427,464.0164 428.9,467.3224 425.1,467.3224" fill="none" stroke="#c8404a" stroke-width="0.8"/>
<polygon points="429.2,469.5164 431.09999999999997,472.8224 427.3,472.8224" fill="none" stroke="#c8404a" stroke-width="0.8"/>
<polygon points="428,478.3164 429.9,481.6224 426.1,481.6224" fill="none" stroke="#c8404a" stroke-width="0.8"/>
<polyline points="287.7,418.5 287.7,404 311.5,404 311.5,429.2" fill="none" stroke="#2e2e2e" stroke-width="1.1"/>
<polyline points="287.7,416.9 300,416.9 300,429.2" fill="none" stroke="#2e2e2e" stroke-width="1.1"/>
<line x1="311.5" y1="416" x2="311.5" y2="429.2" stroke="#2e2e2e" stroke-width="1.8"/>
<polyline points="311.5,416.9 326.2,416.9 326.2,420" fill="none" stroke="#2e2e2e" stroke-width="1.1"/>
<circle cx="298.95" cy="399" r="1.15" fill="#2a2a2a"/>
<circle cx="303.05" cy="399" r="1.15" fill="#2a2a2a"/>
<circle cx="319.40" cy="412.3" r="1.15" fill="#2a2a2a"/>
<text x="290.8" y="413.8" font-size="8.9" fill="#303030" color="#303030" textLength="12.3" lengthAdjust="spacingAndGlyphs">n.s.</text>
<polyline points="339.1,409.2 339.1,395.4 363.1,395.4 363.1,419.4" fill="none" stroke="#2e2e2e" stroke-width="1.1"/>
<polyline points="339.1,407 350.8,407 350.8,418.5" fill="none" stroke="#2e2e2e" stroke-width="1.1"/>
<line x1="363.1" y1="407" x2="363.1" y2="419.4" stroke="#2e2e2e" stroke-width="1.8"/>
<polyline points="363.1,407 376,407 376,410.8" fill="none" stroke="#2e2e2e" stroke-width="1.1"/>
<circle cx="351.70" cy="390.2" r="1.15" fill="#2a2a2a"/>
<circle cx="370.20" cy="402" r="1.15" fill="#2a2a2a"/>
<text x="341.5" y="404.2" font-size="8.9" fill="#303030" color="#303030" textLength="13.5" lengthAdjust="spacingAndGlyphs">n.s.</text>
<polyline points="392.3,416 392.3,402.2 415.4,402.2 415.4,424.6" fill="none" stroke="#2e2e2e" stroke-width="1.1"/>
<polyline points="392.3,413.2 404.6,413.2 404.6,424.6" fill="none" stroke="#2e2e2e" stroke-width="1.1"/>
<line x1="415.4" y1="413" x2="415.4" y2="424.6" stroke="#2e2e2e" stroke-width="1.8"/>
<polyline points="415.4,413.8 430.2,413.8 430.2,417.5" fill="none" stroke="#2e2e2e" stroke-width="1.1"/>
<circle cx="400.50" cy="397.8" r="1.15" fill="#2a2a2a"/>
<circle cx="404.60" cy="397.8" r="1.15" fill="#2a2a2a"/>
<circle cx="408.70" cy="397.8" r="1.15" fill="#2a2a2a"/>
<circle cx="421.05" cy="410.2" r="1.15" fill="#2a2a2a"/>
<circle cx="425.15" cy="410.2" r="1.15" fill="#2a2a2a"/>
<text x="394.5" y="411.5" font-size="8.9" fill="#303030" color="#303030" textLength="12.8" lengthAdjust="spacingAndGlyphs">n.s.</text>
</svg>
</body></html>
